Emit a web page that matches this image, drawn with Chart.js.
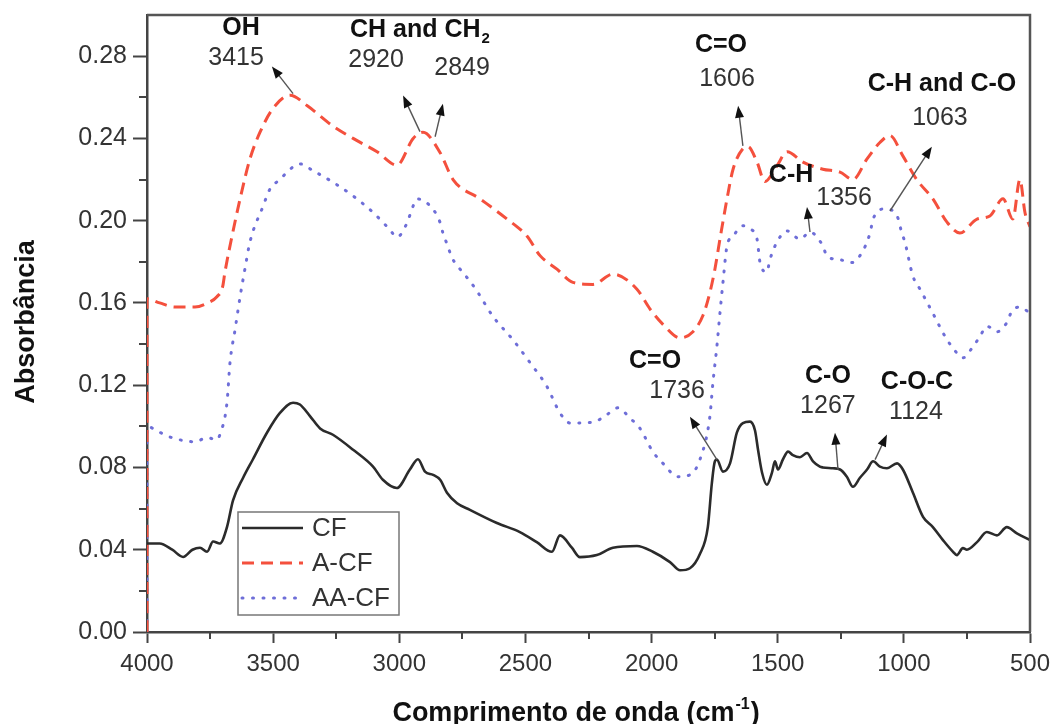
<!DOCTYPE html>
<html>
<head>
<meta charset="utf-8">
<title>FTIR - CF, A-CF, AA-CF</title>
<script src="https://cdn.jsdelivr.net/npm/chart.js@4.4.1/dist/chart.umd.min.js"></script>
<style>
  html, body { margin: 0; padding: 0; background: #fff; }
  #wrap { width: 1053px; height: 724px; }
</style>
</head>
<body>
<div id="wrap"><canvas id="ftirChart" width="1053" height="724"></canvas></div>
<script>
// spectra: wavenumber (cm-1) and absorbance per sample
const cfWave = [4000,3950,3900,3857,3820,3790,3762,3738,3711,3683,3659,3619,3580,3524,3473,3421,3394,3354,3314,3263,3183,3104,3065,3010,2958,2926,2898,2866,2838,2811,2771,2720,2613,2522,2455,2395,2363,2316,2284,2217,2153,2058,1995,1927,1887,1848,1808,1777,1761,1749,1741,1717,1689,1662,1638,1610,1590,1578,1562,1543,1523,1511,1499,1479,1459,1440,1412,1384,1360,1333,1321,1281,1253,1226,1202,1174,1146,1122,1095,1067,1027,1004,964,924,885,845,805,790,766,750,710,671,631,592,552,500];
const cfAbs = [0.043,0.043,0.040,0.0365,0.040,0.041,0.039,0.044,0.043,0.051,0.064,0.075,0.084,0.097,0.1065,0.1115,0.1106,0.105,0.099,0.0959,0.0886,0.0804,0.074,0.070,0.079,0.084,0.078,0.0764,0.074,0.0677,0.0626,0.0594,0.053,0.0486,0.0437,0.039,0.047,0.041,0.0364,0.0374,0.041,0.0418,0.039,0.034,0.030,0.031,0.038,0.051,0.0724,0.083,0.0838,0.078,0.082,0.0969,0.1016,0.1023,0.098,0.0886,0.0774,0.0716,0.0774,0.083,0.079,0.084,0.0877,0.086,0.085,0.087,0.083,0.0804,0.080,0.0796,0.079,0.0755,0.0706,0.075,0.079,0.083,0.0804,0.0796,0.082,0.079,0.0677,0.056,0.051,0.0447,0.039,0.0374,0.0408,0.040,0.0437,0.0486,0.047,0.051,0.048,0.0447];

const acfWave = [4000,4000,3950,3889,3810,3760,3723,3700,3691,3663,3631,3592,3552,3501,3433,3366,3263,3183,3088,3009,2945,2906,2838,2787,2680,2573,2494,2442,2375,2312,2232,2153,2058,2006,1955,1887,1836,1796,1769,1749,1729,1701,1677,1638,1618,1582,1551,1503,1463,1400,1321,1253,1202,1146,1095,1055,1004,949,885,829,778,710,659,607,568,540,520,500];
const acfAbs = [0,0.162,0.160,0.158,0.158,0.160,0.163,0.168,0.175,0.1925,0.2106,0.230,0.243,0.2545,0.261,0.256,0.246,0.240,0.2335,0.227,0.240,0.243,0.233,0.220,0.2106,0.2008,0.1925,0.183,0.1764,0.170,0.169,0.174,0.1667,0.157,0.1496,0.143,0.146,0.154,0.165,0.1764,0.191,0.2106,0.225,0.235,0.236,0.2285,0.219,0.2267,0.2335,0.2285,0.225,0.2236,0.220,0.230,0.238,0.2414,0.2315,0.220,0.2106,0.1993,0.194,0.2008,0.2023,0.2106,0.2008,0.220,0.204,0.197];

const aacfWave = [4000,4000,3948,3901,3810,3762,3723,3711,3683,3671,3651,3631,3612,3592,3540,3512,3473,3433,3394,3342,3263,3183,3104,3040,3009,2969,2950,2930,2866,2838,2827,2811,2791,2759,2720,2688,2629,2549,2482,2415,2363,2323,2232,2177,2133,2086,2046,1995,1947,1899,1848,1808,1769,1757,1741,1729,1717,1701,1677,1638,1610,1582,1570,1543,1531,1503,1463,1412,1372,1321,1305,1253,1206,1174,1134,1122,1075,1027,1008,996,964,936,885,837,805,766,730,698,671,631,592,572,540,500];
const aacfAbs = [0,0.0999,0.097,0.0945,0.0925,0.0945,0.0935,0.096,0.1115,0.131,0.147,0.163,0.1764,0.1896,0.207,0.2155,0.220,0.225,0.2276,0.2243,0.2187,0.212,0.204,0.196,0.192,0.199,0.2055,0.2106,0.2055,0.199,0.194,0.1887,0.182,0.1764,0.1706,0.165,0.1535,0.142,0.131,0.1194,0.1065,0.1016,0.102,0.1057,0.109,0.104,0.099,0.0877,0.081,0.0755,0.0764,0.084,0.1047,0.121,0.139,0.155,0.170,0.1877,0.1925,0.1975,0.196,0.191,0.1796,0.175,0.181,0.1896,0.195,0.191,0.1944,0.1877,0.1828,0.181,0.1796,0.183,0.194,0.2008,0.2057,0.2023,0.194,0.1896,0.173,0.1667,0.155,0.1438,0.138,0.1333,0.138,0.1438,0.1487,0.146,0.1504,0.156,0.158,0.155];

const seriesNames = ["CF", "A-CF", "AA-CF"];

const xTicks = [4000, 3500, 3000, 2500, 2000, 1500, 1000, 500];
const xMinorTicks = [3750, 3250, 2750, 2250, 1750, 1250, 750];
const yTicks = [0, 0.04, 0.08, 0.12, 0.16, 0.20, 0.24, 0.28];
const yMinorTicks = [0.02, 0.06, 0.10, 0.14, 0.18, 0.22, 0.26];

// band assignments: text anchors and arrows in axis units (wavenumber, absorbance)
const peakNotes = [
  { group: "OH", groupAt: [3627, 0.2935], value: "3415", valueAt: [3647, 0.2789], from: [3421, 0.2618], to: [3505, 0.2750] },
  { group: "CH and CH", sub: "2", groupAt: [2918, 0.2925], value: "2920", valueAt: [3092, 0.2779], from: [2918, 0.2433], to: [2985, 0.2608] },
  { value: "2849", valueAt: [2751, 0.2740], from: [2858, 0.2408], to: [2827, 0.2569] },
  { group: "C=O", groupAt: [1725, 0.2852], value: "1606", valueAt: [1701, 0.2690], from: [1638, 0.2364], to: [1657, 0.2559] },
  { group: "C-H and C-O", groupAt: [849, 0.2662], value: "1063", valueAt: [857, 0.2499], from: [1055, 0.2047], to: [889, 0.2360] },
  { group: "C-H", groupAt: [1447, 0.2223], value: "1356", valueAt: [1237, 0.2111], from: [1372, 0.1945], to: [1384, 0.2067] },
  { group: "C=O", groupAt: [1986, 0.1316], value: "1736", valueAt: [1899, 0.1169], from: [1741, 0.0838], to: [1848, 0.1047] },
  { group: "C-O", groupAt: [1301, 0.1243], value: "1267", valueAt: [1301, 0.1097], from: [1261, 0.0789], to: [1273, 0.0969] },
  { group: "C-O-C", groupAt: [948, 0.1214], value: "1124", valueAt: [952, 0.1067], from: [1114, 0.0838], to: [1067, 0.0960] }
];

const FONT = "'Liberation Sans', Arial, Helvetica, sans-serif";
Chart.defaults.font.family = FONT;

function toPoints(xs, ys) {
  return xs.map((x, i) => ({ x: x, y: ys[i] }));
}

// small tick marks between labelled ones
const minorTicks = {
  id: "minorTicks",
  afterDraw(chart) {
    const { ctx, chartArea, scales } = chart;
    ctx.save();
    ctx.strokeStyle = "#444";
    ctx.lineWidth = 2;
    ctx.beginPath();
    yMinorTicks.forEach(v => {
      const y = Math.round(scales.y.getPixelForValue(v));
      ctx.moveTo(chartArea.left - 8, y);
      ctx.lineTo(chartArea.left, y);
    });
    xMinorTicks.forEach(v => {
      const x = Math.round(scales.x.getPixelForValue(v));
      ctx.moveTo(x, chartArea.bottom);
      ctx.lineTo(x, chartArea.bottom + 7);
    });
    ctx.stroke();
    ctx.restore();
  }
};

// top/right frame plus axis titles
const frame = {
  id: "frame",
  afterDraw(chart) {
    const { ctx, chartArea } = chart;
    ctx.save();
    ctx.strokeStyle = "#555";
    ctx.lineWidth = 2.5;
    ctx.beginPath();
    ctx.moveTo(chartArea.left, chartArea.top);
    ctx.lineTo(chartArea.right, chartArea.top);
    ctx.lineTo(chartArea.right, chartArea.bottom);
    ctx.stroke();

    ctx.fillStyle = "#111";
    ctx.font = "bold 27px " + FONT;

    // y title
    ctx.save();
    ctx.translate(34, 322);
    ctx.rotate(-Math.PI / 2);
    ctx.textAlign = "center";
    ctx.textBaseline = "alphabetic";
    ctx.fillText("Absorbância", 0, 0);
    ctx.restore();

    // x title with superscript
    const main = "Comprimento de onda (cm";
    const sup = "-1";
    const tail = ")";
    const wMain = ctx.measureText(main).width;
    const wTail = ctx.measureText(tail).width;
    ctx.font = "bold 16px " + FONT;
    const wSup = ctx.measureText(sup).width;
    const total = wMain + wSup + wTail + 2;
    let x = 576 - total / 2;
    const base = 721;
    ctx.textAlign = "left";
    ctx.textBaseline = "alphabetic";
    ctx.font = "bold 27px " + FONT;
    ctx.fillText(main, x, base);
    x += wMain + 1;
    ctx.font = "bold 16px " + FONT;
    ctx.fillText(sup, x, base - 12);
    x += wSup + 1;
    ctx.font = "bold 27px " + FONT;
    ctx.fillText(tail, x, base);
    ctx.restore();
  }
};

function drawArrow(ctx, x1, y1, x2, y2) {
  const ang = Math.atan2(y2 - y1, x2 - x1);
  const len = 12, half = 4.5;
  ctx.strokeStyle = "#555";
  ctx.lineWidth = 1.4;
  ctx.beginPath();
  ctx.moveTo(x1, y1);
  ctx.lineTo(x2 - Math.cos(ang) * len * 0.6, y2 - Math.sin(ang) * len * 0.6);
  ctx.stroke();
  ctx.fillStyle = "#111";
  ctx.beginPath();
  ctx.moveTo(x2, y2);
  ctx.lineTo(x2 - Math.cos(ang) * len - Math.sin(ang) * half, y2 - Math.sin(ang) * len + Math.cos(ang) * half);
  ctx.lineTo(x2 - Math.cos(ang) * len + Math.sin(ang) * half, y2 - Math.sin(ang) * len - Math.cos(ang) * half);
  ctx.closePath();
  ctx.fill();
}

const bandLabels = {
  id: "bandLabels",
  afterDatasetsDraw(chart) {
    const { ctx, scales } = chart;
    const px = p => [scales.x.getPixelForValue(p[0]), scales.y.getPixelForValue(p[1])];
    ctx.save();
    ctx.textBaseline = "middle";
    peakNotes.forEach(n => {
      const [fx, fy] = px(n.from);
      const [tx, ty] = px(n.to);
      drawArrow(ctx, fx, fy, tx, ty);

      if (n.group) {
        const [gx, gy] = px(n.groupAt);
        ctx.fillStyle = "#111";
        ctx.font = "bold 25px " + FONT;
        const w = ctx.measureText(n.group).width;
        let subW = 0;
        if (n.sub) {
          ctx.font = "bold 15px " + FONT;
          subW = ctx.measureText(n.sub).width + 1;
          ctx.font = "bold 25px " + FONT;
        }
        const left = gx - (w + subW) / 2;
        ctx.textAlign = "left";
        ctx.fillText(n.group, left, gy);
        if (n.sub) {
          ctx.font = "bold 15px " + FONT;
          ctx.fillText(n.sub, left + w + 1, gy + 8);
        }
      }
      const [vx, vy] = px(n.valueAt);
      ctx.fillStyle = "#333";
      ctx.font = "25px " + FONT;
      ctx.textAlign = "center";
      ctx.fillText(n.value, vx, vy);
    });
    ctx.restore();
  }
};

// boxed legend sitting inside the plot, lower left
const boxLegend = {
  id: "boxLegend",
  afterDraw(chart) {
    const { ctx, chartArea } = chart;
    const left = chartArea.left + 91, top = chartArea.top + 497;
    const w = 161, h = 103;
    ctx.save();
    ctx.fillStyle = "#fff";
    ctx.fillRect(left, top, w, h);
    ctx.strokeStyle = "#777";
    ctx.lineWidth = 1.5;
    ctx.strokeRect(left, top, w, h);
    ctx.font = "26px " + FONT;
    ctx.textBaseline = "middle";
    ctx.textAlign = "left";
    chart.data.datasets.forEach((ds, i) => {
      const y = top + 16 + i * 35;
      ctx.save();
      ctx.strokeStyle = ds.borderColor;
      ctx.lineWidth = ds.borderWidth;
      ctx.lineCap = ds.borderCapStyle || "butt";
      ctx.setLineDash(ds.borderDash || []);
      ctx.beginPath();
      ctx.moveTo(left + 4, y);
      ctx.lineTo(left + 65, y);
      ctx.stroke();
      ctx.restore();
      ctx.fillStyle = "#333";
      ctx.fillText(ds.label, left + 74, y + 1);
    });
    ctx.restore();
  }
};

new Chart(document.getElementById("ftirChart"), {
  type: "line",
  data: {
    datasets: [
      {
        label: seriesNames[0],
        data: toPoints(cfWave, cfAbs),
        borderColor: "#2b2b2b",
        borderWidth: 2.6,
        pointRadius: 0,
        cubicInterpolationMode: "monotone"
      },
      {
        label: seriesNames[1],
        data: toPoints(acfWave, acfAbs),
        borderColor: "#f4503d",
        borderWidth: 3,
        borderDash: [12, 7],
        pointRadius: 0,
        cubicInterpolationMode: "monotone"
      },
      {
        label: seriesNames[2],
        data: toPoints(aacfWave, aacfAbs),
        borderColor: "#6e6ed8",
        borderWidth: 3,
        borderDash: [1, 9.5],
        borderCapStyle: "round",
        pointRadius: 0,
        cubicInterpolationMode: "monotone"
      }
    ]
  },
  options: {
    responsive: false,
    animation: false,
    devicePixelRatio: 1,
    layout: { padding: { top: 15, right: 23, left: 0, bottom: 0 } },
    plugins: {
      legend: { display: false },
      tooltip: { enabled: false }
    },
    scales: {
      x: {
        type: "linear",
        reverse: true,
        min: 500,
        max: 4000,
        afterBuildTicks: s => { s.ticks = xTicks.map(v => ({ value: v })); },
        afterFit: s => { s.height = 92; s.paddingLeft = 0; s.paddingRight = 0; },
        border: { display: true, color: "#444", width: 2.5 },
        grid: { drawOnChartArea: false, tickColor: "#444", tickWidth: 2, tickLength: 11 },
        ticks: {
          autoSkip: false,
          maxRotation: 0,
          padding: 7,
          color: "#333",
          font: { size: 24 },
          callback: v => String(v)
        }
      },
      y: {
        min: 0,
        max: 0.30,
        afterBuildTicks: s => { s.ticks = yTicks.map(v => ({ value: v })); },
        afterFit: s => { s.width = 147; s.paddingTop = 0; s.paddingBottom = 0; },
        border: { display: true, color: "#444", width: 2.5 },
        grid: { drawOnChartArea: false, tickColor: "#444", tickWidth: 2, tickLength: 14 },
        ticks: {
          padding: 6,
          color: "#333",
          font: { size: 25 },
          callback: v => v.toFixed(2)
        }
      }
    }
  },
  plugins: [minorTicks, frame, bandLabels, boxLegend]
});
</script>
</body>
</html>
